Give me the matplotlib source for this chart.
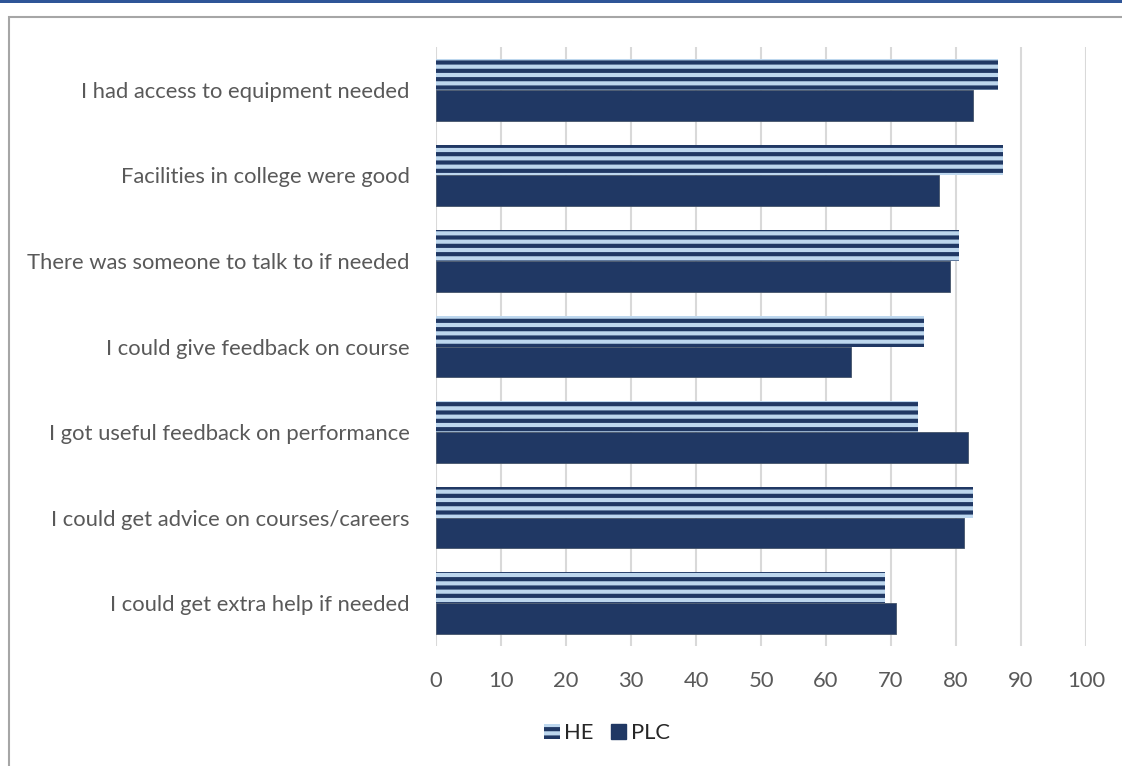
import matplotlib
matplotlib.use("Agg")
import matplotlib.pyplot as plt
from matplotlib.patches import Rectangle, Patch
import numpy as np

categories = ["I had access to equipment needed",
              "Facilities in college were good",
              "There was someone to talk to if needed",
              "I could give feedback on course",
              "I got useful feedback on performance",
              "I could get advice on courses/careers",
              "I could get extra help if needed"]
he = [86.4, 87.2, 80.4, 75.0, 74.2, 82.6, 69.0]
plc = [82.6, 77.4, 79.0, 63.9, 81.9, 81.3, 70.8]
xticks = [0, 10, 20, 30, 40, 50, 60, 70, 80, 90, 100]

dark = "#203864"
light = "#BDD7EE"
txt = "#595959"
fs = 15.8

plt.rcParams['font.family'] = ['Lato', 'DejaVu Sans']
plt.rcParams['hatch.linewidth'] = 3.0

fig = plt.figure(figsize=(11.22, 7.66), dpi=100)
ax = fig.add_axes([436/1122, 1-646/766, 650/1122, 599/766])

y = np.arange(len(categories))
h = 0.36
ax.barh(y - h/2, he, height=h, color=light, hatch='--', edgecolor=dark, linewidth=0, label="HE", zorder=2)
ax.barh(y + h/2, plc, height=h, color=dark, edgecolor="#44546A", linewidth=0.6, label="PLC", zorder=2)

ax.set_xlim(0, 100)
ax.set_ylim(len(categories) - 0.5, -0.5)
ax.set_xticks(xticks)
ax.set_yticks(y)
ax.set_yticklabels(categories)
ax.grid(axis='x', color="#D9D9D9", linewidth=1.5, zorder=0)
ax.set_axisbelow(True)
for s in ax.spines.values():
    s.set_visible(False)
ax.tick_params(axis='both', length=0, colors=txt, labelsize=fs)
ax.tick_params(axis='x', pad=18)
ax.tick_params(axis='y', pad=19)

handles = [Patch(facecolor=light, hatch='--', edgecolor=dark, linewidth=0, label="HE"),
           Patch(facecolor=dark, edgecolor=dark, label="PLC")]
leg = fig.legend(handles=handles, loc='center', bbox_to_anchor=(607/1122, 1-733/766),
                 ncol=2, frameon=False, fontsize=fs, handlelength=0.7, handleheight=0.7,
                 handletextpad=0.2, columnspacing=0.8)
for t in leg.get_texts():
    t.set_color("#262626")

# outer frame and top band
fig.patches.append(Rectangle((8.5/1122, -0.1), 1.2, 1-16.5/766 + 0.1, transform=fig.transFigure,
                             fill=False, edgecolor="#A6A6A6", linewidth=1.5))
fig.patches.append(Rectangle((0, 1-3/766), 1, 3/766, transform=fig.transFigure,
                             facecolor="#2F5597", edgecolor="none"))

fig.savefig("out.png", dpi=100)
